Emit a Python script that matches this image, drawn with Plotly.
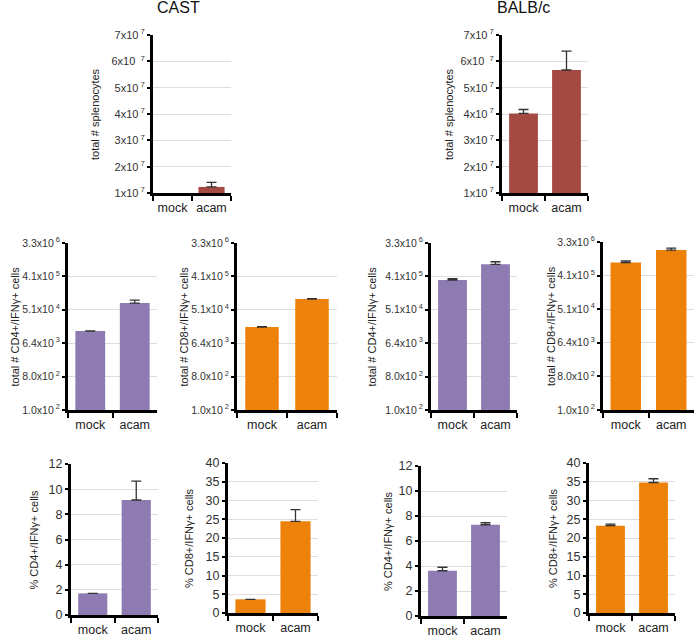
import math
import plotly.graph_objects as go

W, H = 696, 637

categories = ["mock", "acam"]

# Row 1: total splenocytes (linear)
cast_splen = [0.9e7, 1.23e7]
cast_splen_err = [None, 0.17e7]
balb_splen = [4.02e7, 5.67e7]
balb_splen_err = [0.15e7, 0.72e7]

# Row 2: total # IFNg+ cells (log, base-8 ticks)
cast_cd4_num = [1.37e4, 7.8e4]
cast_cd4_num_err = [None, 1.6e4]
cast_cd8_num = [1.75e4, 1.0e5]
cast_cd8_num_err = [400, 2000]
balb_cd4_num = [3.27e5, 8.7e5]
balb_cd4_num_err = [0.28e5, 1.5e5]
balb_cd8_num = [9.2e5, 1.99e6]
balb_cd8_num_err = [1.0e5, 2.6e5]

# Row 3: % IFNg+ cells
cast_cd4_pct = [1.72, 9.14]
cast_cd4_pct_err = [None, 1.5]
cast_cd8_pct = [3.65, 24.45]
cast_cd8_pct_err = [None, 3.1]
balb_cd4_pct = [3.62, 7.3]
balb_cd4_pct_err = [0.28, 0.16]
balb_cd8_pct = [23.3, 34.8]
balb_cd8_pct_err = [0.4, 1.0]

# tick labels
splen_tickvals = [1e7, 2e7, 3e7, 4e7, 5e7, 6e7, 7e7]
splen_ticktext = ["1x10<sup> 7</sup>", "2x10<sup> 7</sup>", "3x10<sup> 7</sup>", "4x10<sup> 7</sup>",
                  "5x10<sup> 7</sup>", "6x10 <sup> 7</sup>", "7x10<sup> 7</sup>"]
num_tickvals = [100, 800, 6400, 51200, 409600, 3276800]
num_ticktext = ["1.0x10<sup> 2</sup>", "8.0x10<sup> 2</sup>", "6.4x10<sup> 3</sup>",
                "5.1x10<sup> 4</sup>", "4.1x10<sup> 5</sup>", "3.3x10<sup> 6</sup>"]
cd4_pct_tickvals = [0, 2, 4, 6, 8, 10, 12]
cd8_pct_tickvals = [0, 5, 10, 15, 20, 25, 30, 35, 40]

BROWN = "#A54A43"
PURPLE = "#8E7BB1"
ORANGE = "#EC8209"
FONT = "Liberation Sans, Arial, sans-serif"

# panel specs: data, err, color, box (x0,x1,y0top,y1bottom in px), axis kind, title, title x px
panels = [
    (cast_splen, cast_splen_err, BROWN, (153, 231, 35, 193), "splen", "total # splenocytes", 95),
    (balb_splen, balb_splen_err, BROWN, (502, 588, 35, 193), "splen", "total # splenocytes", 449),
    (cast_cd4_num, cast_cd4_num_err, PURPLE, (68, 157, 243, 410), "num", "total # CD4+/IFNγ+ cells", 14),
    (cast_cd8_num, cast_cd8_num_err, ORANGE, (237, 337, 243, 410), "num", "total # CD8+/IFNγ+ cells", 183),
    (balb_cd4_num, balb_cd4_num_err, PURPLE, (431, 517, 243, 410), "num", "total # CD4+/IFNγ+ cells", 371),
    (balb_cd8_num, balb_cd8_num_err, ORANGE, (603, 694, 242, 410), "num", "total # CD8+/IFNγ+ cells", 551),
    (cast_cd4_pct, cast_cd4_pct_err, PURPLE, (71, 158, 464, 615), "cd4pct", "% CD4+/IFNγ+ cells", 33),
    (cast_cd8_pct, cast_cd8_pct_err, ORANGE, (228, 318, 463, 613), "cd8pct", "% CD8+/IFNγ+ cells", 189),
    (balb_cd4_pct, balb_cd4_pct_err, PURPLE, (421, 507, 466, 616), "cd4pct", "% CD4+/IFNγ+ cells", 388),
    (balb_cd8_pct, balb_cd8_pct_err, ORANGE, (589, 675, 463, 613), "cd8pct", "% CD8+/IFNγ+ cells", 553),
]

fig = go.Figure()
layout = dict(
    width=W, height=H, margin=dict(l=0, r=0, t=0, b=0, autoexpand=False),
    paper_bgcolor="white", plot_bgcolor="white", showlegend=False,
    bargap=0.33, font=dict(family=FONT, color="#222"),
)
annotations = []

for i, (vals, err, color, (x0, x1, y0, y1), kind, title, tx) in enumerate(panels, start=1):
    xa = "x" if i == 1 else f"x{i}"
    ya = "y" if i == 1 else f"y{i}"
    fig.add_trace(go.Bar(
        x=categories, y=vals, xaxis=xa, yaxis=ya,
        marker=dict(color=color, line=dict(width=0)),
        error_y=dict(type="data", symmetric=False, array=err, arrayminus=[0] * len(err),
                     color="#333333", thickness=1.3, width=5),
    ))
    xkey = "xaxis" if i == 1 else f"xaxis{i}"
    ykey = "yaxis" if i == 1 else f"yaxis{i}"
    layout[xkey] = dict(
        domain=[x0 / W, x1 / W], anchor=ya, type="category", range=[-0.5, 1.5],
        automargin=False,
        showline=True, linecolor="black", linewidth=3, ticks="outside", tickson="boundaries",
        ticklen=5, tickwidth=2, tickcolor="black", showgrid=False, zeroline=False,
        tickangle=0, tickfont=dict(size=12.5, color="#222", family=FONT), ticklabelstandoff=1,
    )
    yd = dict(
        domain=[1 - y1 / H, 1 - y0 / H], anchor=xa, automargin=False,
        showline=True, linecolor="black", linewidth=3, ticks="outside",
        ticklen=3, tickwidth=2, tickcolor="black", showgrid=True, gridcolor="#dedede",
        gridwidth=1, zeroline=False,
    )
    if kind == "splen":
        yd.update(range=[1e7, 7e7], tickmode="array", tickvals=splen_tickvals,
                  ticktext=splen_ticktext, tickfont=dict(size=11, color="#333", family=FONT))
    elif kind == "num":
        yd.update(type="log", range=[math.log10(100), math.log10(3276800)], tickmode="array",
                  tickvals=num_tickvals, ticktext=num_ticktext,
                  tickfont=dict(size=10.5, color="#333", family=FONT))
    elif kind == "cd4pct":
        yd.update(range=[0, 12], tickmode="array", tickvals=cd4_pct_tickvals,
                  tickfont=dict(size=12.5, color="#333", family=FONT))
    else:
        yd.update(range=[0, 40], tickmode="array", tickvals=cd8_pct_tickvals,
                  tickfont=dict(size=12.5, color="#333", family=FONT))
    layout[ykey] = yd
    annotations.append(dict(
        text=title, xref="paper", yref="paper", x=tx / W, y=1 - ((y0 + y1) / 2) / H,
        xanchor="center", yanchor="middle", textangle=-90, showarrow=False,
        font=dict(size=11, color="#222", family=FONT),
    ))

annotations.append(dict(text="CAST", xref="paper", yref="paper", x=178 / W, y=1 - 8 / H,
                        xanchor="center", yanchor="middle", showarrow=False,
                        font=dict(size=16, color="#111", family=FONT)))
annotations.append(dict(text="BALB/c", xref="paper", yref="paper", x=523 / W, y=1 - 8 / H,
                        xanchor="center", yanchor="middle", showarrow=False,
                        font=dict(size=16, color="#111", family=FONT)))
layout["annotations"] = annotations
fig.update_layout(**layout)
fig.write_html(
    "out.html",
    config={"displayModeBar": False, "responsive": False},
    post_script="document.body.style.margin='0';document.body.style.padding='0';document.body.style.overflow='hidden';",
)
